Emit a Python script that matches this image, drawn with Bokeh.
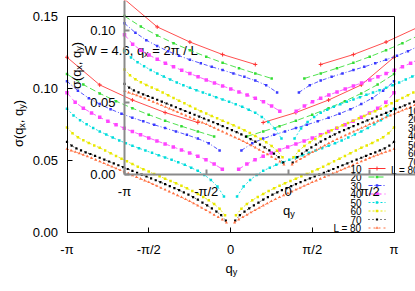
import math
from bokeh.plotting import figure
from bokeh.models import Range1d, LinearAxis, FixedTicker
from bokeh.core.properties import value
from bokeh.embed import file_html
from bokeh.resources import INLINE

# ---------------- data ----------------
L_values = [10, 20, 30, 40, 50, 60, 70, 80]
legend_labels = ["10", "20", "30", "40", "50", "60", "70", "L = 80"]

# sigma(q_x=2pi/L, q_y) at q_y = 2*pi*k/L, k = 1..L/2 (curves are symmetric in q_y)
sigma_10 = [0.0764, 0.0833, 0.0920, 0.1025, 0.1217]
sigma_20 = [0.0667, 0.0702, 0.0738, 0.0776, 0.0818, 0.0863, 0.0912, 0.0966, 0.1027, 0.1100]
sigma_30 = [0.0570, 0.0620, 0.0652, 0.0678, 0.0702, 0.0725, 0.0748, 0.0772, 0.0797, 0.0825,
            0.0856, 0.0892, 0.0933, 0.0985, 0.1050]
sigma_40 = [0.0440, 0.0475, 0.0505, 0.0530, 0.0552, 0.0573, 0.0594, 0.0615, 0.0636, 0.0657,
            0.0679, 0.0701, 0.0724, 0.0748, 0.0773, 0.0800, 0.0830, 0.0863, 0.0905, 0.0970]
sigma_50 = [0.0250, 0.0320, 0.0365, 0.0400, 0.0428, 0.0450, 0.0470, 0.0488, 0.0505, 0.0521,
            0.0537, 0.0553, 0.0569, 0.0585, 0.0602, 0.0620, 0.0639, 0.0659, 0.0680, 0.0702,
            0.0726, 0.0752, 0.0780, 0.0812, 0.0860]
sigma_60 = [0.0120, 0.0165, 0.0198, 0.0224, 0.0247, 0.0268, 0.0288, 0.0307, 0.0325, 0.0342,
            0.0358, 0.0374, 0.0390, 0.0406, 0.0423, 0.0440, 0.0457, 0.0475, 0.0494, 0.0513,
            0.0532, 0.0551, 0.0570, 0.0588, 0.0605, 0.0622, 0.0640, 0.0661, 0.0690, 0.0730]
sigma_70 = [0.0083, 0.0120, 0.0145, 0.0167, 0.0188, 0.0208, 0.0228, 0.0246, 0.0263, 0.0279,
            0.0294, 0.0308, 0.0322, 0.0336, 0.0350, 0.0363, 0.0376, 0.0389, 0.0402, 0.0415,
            0.0428, 0.0441, 0.0454, 0.0467, 0.0480, 0.0493, 0.0506, 0.0519, 0.0532, 0.0545,
            0.0557, 0.0570, 0.0584, 0.0603, 0.0630]
sigma_80 = [0.0069, 0.0090, 0.0106, 0.0122, 0.0139, 0.0155, 0.0171, 0.0187, 0.0202, 0.0217,
            0.0231, 0.0245, 0.0258, 0.0271, 0.0284, 0.0297, 0.0310, 0.0323, 0.0336, 0.0349,
            0.0361, 0.0373, 0.0385, 0.0397, 0.0409, 0.0421, 0.0433, 0.0445, 0.0457, 0.0469,
            0.0481, 0.0493, 0.0505, 0.0517, 0.0528, 0.0539, 0.0550, 0.0560, 0.0569, 0.0580]
sigma_by_L = [sigma_10, sigma_20, sigma_30, sigma_40, sigma_50, sigma_60, sigma_70, sigma_80]

x_ticks = [-math.pi, -math.pi / 2, 0.0, math.pi / 2, math.pi]
x_tick_labels = ["-π", "-π/2", "0", "π/2", "π"]
y_ticks = [0.0, 0.05, 0.10, 0.15]
y_tick_labels = ["0.00", "0.05", "0.10", "0.15"]

title_parts = [("W = 4.6, q", False), ("x", True), (" = 2π / L", False)]
xlabel_parts = [("q", False), ("y", True)]
ylabel_parts = [("σ(q", False), ("x", True), (", q", False), ("y", True), (")", False)]

# ---------------- styles / layout ----------------
FONT = "Liberation Sans"
colors = ["#ff3030", "#33dd33", "#3a3aff", "#ff44ff", "#00dcdc", "#e8e800", "#000000", "#ff7040"]
dashes = ["solid", "6 3", "4 2 1 2", "5 3", "2 2", "2 2", "1 3", "2 3"]
markers = ["cross", "square", "square", "square", "square", "square", "square", "triangle"]
msizes = [4, 2.5, 2.5, 3.5, 2.5, 2.5, 2.2, 3]

W, H = 415, 291
# main plot box in page pixels
BOX_L, BOX_R, BOX_T, BOX_B = 66.5, 393.5, 16.0, 232.0
PX_PER_RAD = (BOX_R - BOX_L) / (2 * math.pi)
PX_PER_SIG = (BOX_B - BOX_T) / 0.15
INSET_DX, INSET_DY = 57.5, 58.0          # inset = same plot shifted right / up (px)


def qx(px):   # page x -> main data x
    return -math.pi + (px - BOX_L) / PX_PER_RAD


def sy(py):   # page y -> main data y
    return (BOX_B - py) / PX_PER_SIG


dq = INSET_DX / PX_PER_RAD
ds = INSET_DY / PX_PER_SIG
x0, x1 = qx(0), qx(W)
y0, y1 = sy(H), sy(0)

p = figure(width=W, height=H, x_range=Range1d(x0, x1), y_range=Range1d(y0, y1),
           output_backend="svg", toolbar_location=None,
           x_axis_type=None, y_axis_type=None,
           min_border_left=0, min_border_right=0, min_border_top=0, min_border_bottom=0)
p.extra_x_ranges = {"ix": Range1d(x0 - dq, x1 - dq)}
p.extra_y_ranges = {"iy": Range1d(y0 - ds, y1 - ds)}
p.xgrid.visible = False
p.ygrid.visible = False
p.outline_line_color = None

INSET = {"x_range_name": "ix", "y_range_name": "iy"}


def make_axis(side, loc, bounds, ticks, labels, color, width, rng=None, show=True):
    ax = LinearAxis(fixed_location=loc, bounds=bounds, ticker=FixedTicker(ticks=ticks),
                    major_label_overrides=dict(zip(ticks, labels)), **(rng or {}))
    ax.axis_line_color = color
    ax.axis_line_width = width
    ax.major_tick_line_color = color if show else None
    ax.major_tick_line_width = width
    ax.major_tick_in = 5
    ax.major_tick_out = 0
    ax.minor_tick_line_color = None
    ax.major_label_text_font = FONT
    ax.major_label_text_font_size = "13px"
    ax.major_label_text_color = "black" if show else None
    ax.major_label_standoff = 9
    p.add_layout(ax, side)


# main box
make_axis("below", 0.0, (-math.pi, math.pi), x_ticks, x_tick_labels, "black", 1)
make_axis("left", -math.pi, (0.0, 0.15), y_ticks, y_tick_labels, "black", 1)
make_axis("above", 0.15, (-math.pi, math.pi), x_ticks, x_tick_labels, "black", 1, show=False)
make_axis("right", math.pi, (0.0, 0.15), y_ticks, y_tick_labels, "black", 1, show=False)
# inset axes (gray)
make_axis("below", 0.0, (-math.pi, math.pi), x_ticks, x_tick_labels, "#8a8a8a", 2, rng=INSET)
make_axis("left", -math.pi, (0.0, 0.15), y_ticks, y_tick_labels, "#8a8a8a", 2, rng=INSET)

# ---------------- text helpers ----------------
EM = {"W": .944, " ": .278, "=": .584, ".": .278, ",": .278, "q": .556, "x": .5, "y": .5,
      "π": .6, "/": .278, "L": .556, "σ": .6, "(": .333, ")": .333}


def tw(s, size):
    return sum(EM.get(ch, .556) for ch in s) * size


def rich(parts, ax_px, ay_px, size=13, rotate=False, center=True):
    """parts placed along a baseline in page pixels; returns glyph columns"""
    sub = size * 0.7
    total = sum(tw(t, sub if s else size) for t, s in parts)
    pos = -total / 2 if center else 0.0
    out = []
    for t, s in parts:
        sz = sub if s else size
        lead = len(t) - len(t.lstrip(" "))
        start = pos + tw(" " * lead, sz)
        drop = 3.0 if s else 0.0
        if rotate:
            px, py, ang = ax_px + drop, ay_px - start, math.pi / 2
        else:
            px, py, ang = ax_px + start, ay_px + drop, 0.0
        out.append((qx(px), sy(py), t.strip(" "), sz, ang))
        pos += tw(t, sz)
    return out


pieces = (rich(title_parts, 84, 50, center=False)
          + rich(xlabel_parts, 231, 268)
          + rich(ylabel_parts, 18, 123, rotate=True))

# legend geometry (page px)
LEG_TEXT_R, LEG_G0, LEG_G1 = 361, 368, 385
LEG_ROW0, LEG_DY = 168, 8.5

for rng in ({}, INSET):
    # curves
    for L, sig, c, d, m, ms in zip(L_values, sigma_by_L, colors, dashes, markers, msizes):
        q = [2 * math.pi * k / L for k in range(1, len(sig) + 1)]
        xs = [-v for v in q[::-1]] + [float("nan")] + q
        ys = sig[::-1] + [float("nan")] + sig
        p.line(xs, ys, line_color=c, line_width=1, line_dash=d, line_alpha=0.85, **rng)
        if m == "cross":
            p.scatter(xs, ys, marker=m, size=ms, line_color=c, line_width=1, **rng)
        else:
            p.scatter(xs, ys, marker=m, size=ms, fill_color=c, line_color=None, **rng)
    # legend
    rows_y = [sy(LEG_ROW0 + i * LEG_DY) for i in range(len(legend_labels))]
    p.text([qx(LEG_TEXT_R)] * len(rows_y), rows_y, text=legend_labels, text_align="right",
           text_baseline="middle", text_font=value(FONT), text_font_size="10px",
           text_color="black", **rng)
    for yy, c, d, m, ms in zip(rows_y, colors, dashes, markers, msizes):
        p.line([qx(LEG_G0), qx(LEG_G1)], [yy, yy], line_color=c, line_width=1, line_dash=d, **rng)
        if m == "cross":
            p.scatter([qx((LEG_G0 + LEG_G1) / 2)], [yy], marker=m, size=ms, line_color=c, **rng)
        else:
            p.scatter([qx((LEG_G0 + LEG_G1) / 2)], [yy], marker=m, size=ms, fill_color=c,
                      line_color=None, **rng)
    # titles and axis labels
    for xx, yy, t, sz, ang in pieces:
        p.text([xx], [yy], text=[t], angle=ang, text_align="left", text_baseline="alphabetic",
               text_font=value(FONT), text_font_size=f"{sz:.1f}px", text_color="black", **rng)

open("out.html", "w").write(file_html(p, INLINE))
